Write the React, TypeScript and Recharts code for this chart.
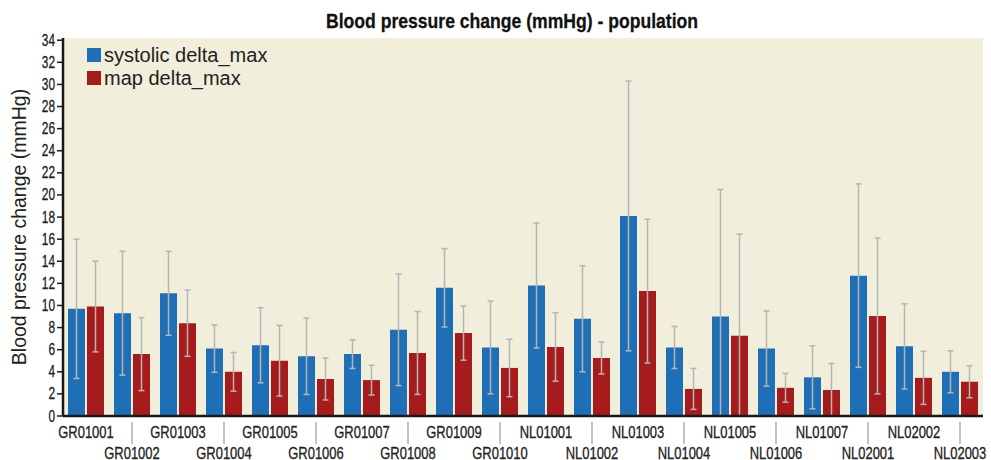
import { Bar, BarChart, CartesianGrid, ErrorBar, XAxis, YAxis } from "recharts";

const categories = [
  "GR01001", "GR01002", "GR01003", "GR01004", "GR01005", "GR01006", "GR01007",
  "GR01008", "GR01009", "GR01010", "NL01001", "NL01002", "NL01003", "NL01004",
  "NL01005", "NL01006", "NL01007", "NL02001", "NL02002", "NL02003",
];

const systolic = [9.7, 9.3, 11.1, 6.1, 6.4, 5.4, 5.6, 7.8, 11.6, 6.2, 11.8, 8.8, 18.1, 6.2, 9.0, 6.1, 3.5, 12.7, 6.3, 4.0];
const systolicSd = [6.3, 5.6, 3.8, 2.15, 3.4, 3.45, 1.3, 5.05, 3.55, 4.2, 5.65, 4.8, 12.2, 1.9, 11.5, 3.4, 2.85, 8.3, 3.85, 1.9];
const map = [9.9, 5.6, 8.4, 4.0, 5.0, 3.35, 3.25, 5.7, 7.5, 4.35, 6.25, 5.25, 11.3, 2.45, 7.25, 2.55, 2.35, 9.05, 3.45, 3.1];
const mapSd = [4.1, 3.3, 3.0, 1.75, 3.2, 1.9, 1.35, 3.75, 2.45, 2.6, 3.1, 1.45, 6.5, 1.85, 9.2, 1.3, 2.4, 7.05, 2.4, 1.45];
const yTicks = [0, 2, 4, 6, 8, 10, 12, 14, 16, 18, 20, 22, 24, 26, 28, 30, 32, 34];

const BLUE = "#1f6fb7";
const RED = "#a61b1c";
const SANS = "'Liberation Sans', Arial, sans-serif";

// the reference clips whiskers at the x axis, so cap the lower error at the bar value
const data = categories.map((site, i) => ({
  site,
  systolic: systolic[i],
  systolicErr: [Math.min(systolicSd[i], systolic[i]), systolicSd[i]],
  map: map[i],
  mapErr: [Math.min(mapSd[i], map[i]), mapSd[i]],
}));

// labels in the reference use a condensed face, so squeeze Liberation Sans
function SiteTick({ x, y, payload, index }: any) {
  const low = index % 2 === 1;
  return (
    <g>
      {low && <line x1={x} x2={x} y1={y + 4} y2={y + 26} stroke="#b0b0b0" strokeWidth={1.5} />}
      <text
        transform={`translate(${x},${low ? y + 40.5 : y + 19.5}) scale(0.8,1)`}
        textAnchor="middle"
        fontFamily={SANS}
        fontSize={16.2}
        fill="#222"
        stroke="#222"
        strokeWidth={0.3}
      >
        {payload.value}
      </text>
    </g>
  );
}

function ValueTick({ x, y, payload }: any) {
  return (
    <text
      transform={`translate(${x},${y + 5.5}) scale(0.74,1)`}
      textAnchor="end"
      fontFamily={SANS}
      fontSize={16}
      fill="#222"
      stroke="#222"
      strokeWidth={0.3}
    >
      {payload.value}
    </text>
  );
}

const legendItems = [
  { label: "systolic delta_max", color: BLUE },
  { label: "map delta_max", color: RED },
];

export default function App() {
  return (
    <div style={{ position: "absolute", left: 0, top: 0, width: 991, height: 460, background: "#fff" }}>
      <BarChart
        width={991}
        height={460}
        data={data}
        margin={{ top: 38, right: 8, bottom: 0, left: 20 }}
        barCategoryGap={5}
        barGap={2}
      >
        <CartesianGrid horizontal={false} vertical={false} fill="#f1eedb" />
        <XAxis
          dataKey="site"
          interval={0}
          height={44}
          tickSize={0}
          tickLine={false}
          axisLine={{ stroke: "#1a1a1a", strokeWidth: 2.5 }}
          tick={<SiteTick />}
        />
        <YAxis
          domain={[0, 34.2]}
          ticks={yTicks}
          allowDataOverflow
          interval={0}
          width={43}
          tickSize={6}
          tickMargin={2}
          tickLine={{ stroke: "#1a1a1a", strokeWidth: 1.5 }}
          axisLine={{ stroke: "#1a1a1a", strokeWidth: 2.5 }}
          tick={<ValueTick />}
        />
        <Bar dataKey="systolic" fill={BLUE} isAnimationActive={false}>
          <ErrorBar dataKey="systolicErr" width={3} stroke="#b5b5b5" strokeWidth={1.5} />
        </Bar>
        <Bar dataKey="map" fill={RED} isAnimationActive={false}>
          <ErrorBar dataKey="mapErr" width={3} stroke="#b5b5b5" strokeWidth={1.5} />
        </Bar>
      </BarChart>
      <svg width={991} height={460} style={{ position: "absolute", left: 0, top: 0, pointerEvents: "none" }}>
        <text
          x={326}
          y={28}
          textLength={372}
          lengthAdjust="spacingAndGlyphs"
          fontFamily={SANS}
          fontWeight="bold"
          fontSize={21}
          fill="#111"
          stroke="#111"
          strokeWidth={0.3}
        >
          Blood pressure change (mmHg) - population
        </text>
        <text
          transform="translate(26,227) rotate(-90)"
          textAnchor="middle"
          fontFamily={SANS}
          fontSize={19.5}
          fill="#222"
        >
          Blood pressure change (mmHg)
        </text>
        {legendItems.map((it, i) => (
          <g key={it.label}>
            <rect x={87} y={48 + i * 23} width={14} height={14} fill={it.color} />
            <text x={104} y={61.5 + i * 23} fontFamily={SANS} fontSize={20} fill="#222">
              {it.label}
            </text>
          </g>
        ))}
      </svg>
    </div>
  );
}
